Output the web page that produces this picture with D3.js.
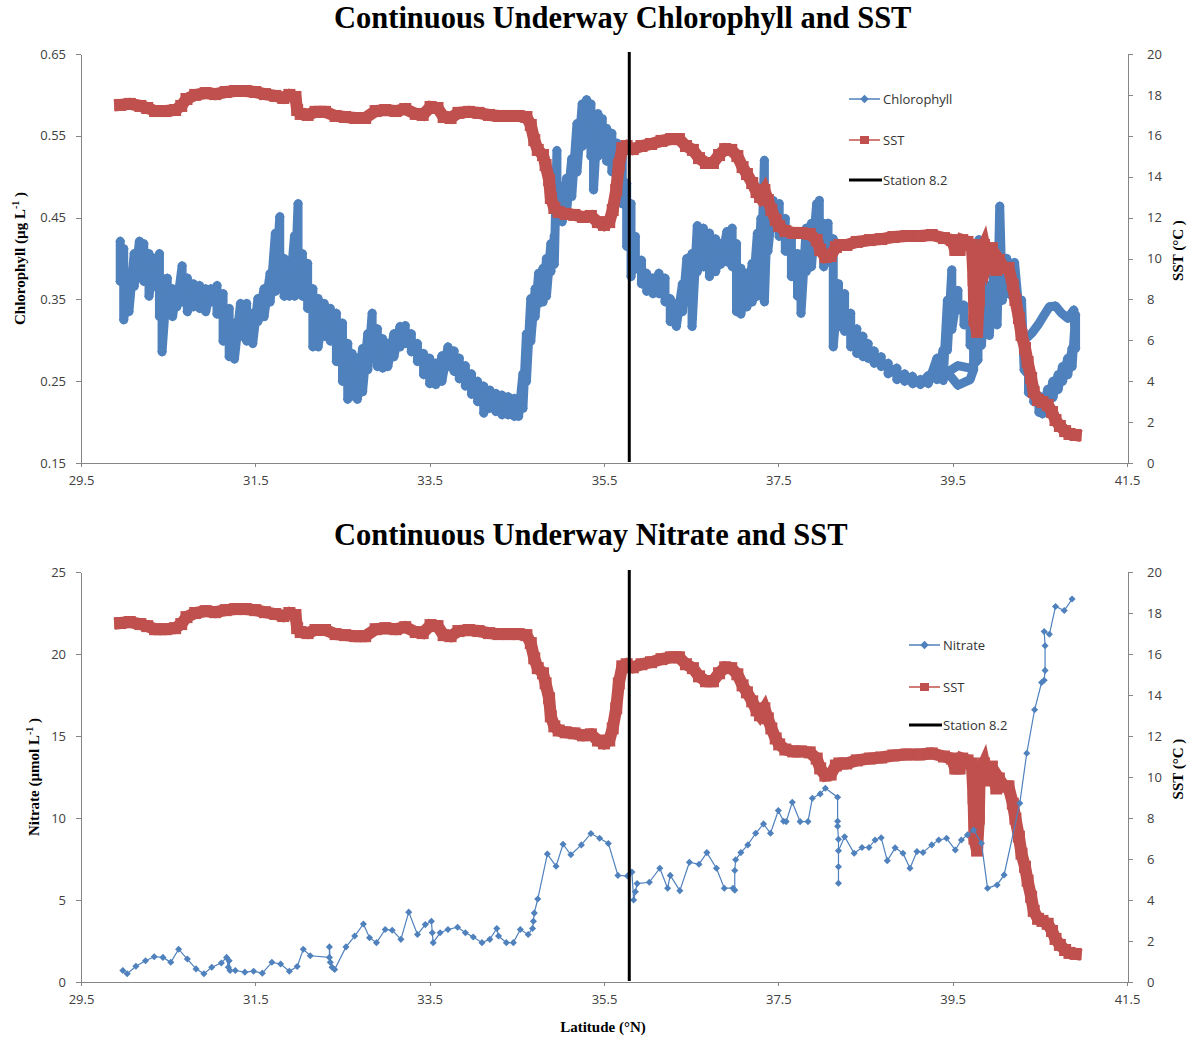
<!DOCTYPE html>
<html>
<head>
<meta charset="utf-8">
<script src="https://cdn.jsdelivr.net/npm/d3@7"></script>
<style>
  body { margin: 0; background: #fff; }
  .axis path, .axis line { stroke: #868686; shape-rendering: crispEdges; }
  .axis text { font-family: "Open Sans", sans-serif; font-size: 13px; fill: #404040; }
  .title { font-family: "Liberation Serif", serif; font-weight: bold; font-size: 30.5px; fill: #000; }
  .label { font-family: "Liberation Serif", serif; font-weight: bold; font-size: 15px; fill: #000; }
  .legend text { font-family: "Open Sans", sans-serif; font-size: 13px; fill: #333; }
</style>
</head>
<body>
<svg id="chart" width="1188" height="1038"></svg>
<script>
// ---- data ----
const latTicks = [29.5, 31.5, 33.5, 35.5, 37.5, 39.5, 41.5];
const chlTicks = [0.15, 0.25, 0.35, 0.45, 0.55, 0.65];
const nitrateTicks = [0, 5, 10, 15, 20, 25];
const sstTicks = [0, 2, 4, 6, 8, 10, 12, 14, 16, 18, 20];
const stationLat = 35.79;

// [latitude, chlorophyll µg/L] in track order (dense underway record)
const chlorophyll = [
  [29.95,0.421],[29.95,0.372],[29.99,0.412],[29.99,0.325],[30.05,0.382],[30.05,0.335],
  [30.11,0.406],[30.11,0.366],[30.17,0.421],[30.17,0.378],[30.22,0.418],[30.22,0.372],
  [30.28,0.406],[30.28,0.354],[30.34,0.400],[30.34,0.366],[30.40,0.406],[30.40,0.329],
  [30.43,0.376],[30.43,0.286],[30.49,0.376],[30.49,0.341],[30.55,0.363],[30.55,0.329],
  [30.60,0.363],[30.60,0.341],[30.66,0.391],[30.66,0.347],[30.72,0.376],[30.72,0.335],
  [30.79,0.369],[30.79,0.341],[30.86,0.367],[30.86,0.339],[30.93,0.363],[30.93,0.335],
  [30.99,0.363],[30.99,0.347],[31.06,0.367],[31.06,0.332],[31.13,0.357],[31.13,0.299],
  [31.20,0.339],[31.20,0.280],[31.26,0.321],[31.26,0.277],[31.33,0.345],[31.33,0.305],
  [31.40,0.345],[31.40,0.299],[31.47,0.333],[31.47,0.296],[31.53,0.351],[31.53,0.323],
  [31.60,0.363],[31.60,0.329],[31.67,0.382],[31.67,0.347],[31.73,0.431],[31.73,0.360],
  [31.78,0.451],[31.78,0.366],[31.83,0.400],[31.83,0.354],[31.89,0.391],[31.89,0.354],
  [31.95,0.428],[31.95,0.354],[31.99,0.467],[31.99,0.366],[32.04,0.406],[32.04,0.354],
  [32.10,0.394],[32.10,0.339],[32.16,0.363],[32.16,0.292],[32.22,0.351],[32.22,0.292],
  [32.29,0.345],[32.29,0.305],[32.36,0.339],[32.36,0.299],[32.43,0.333],[32.43,0.274],
  [32.50,0.321],[32.50,0.250],[32.56,0.296],[32.56,0.228],[32.61,0.284],[32.61,0.232],
  [32.67,0.278],[32.67,0.228],[32.73,0.290],[32.73,0.237],[32.79,0.308],[32.79,0.264],
  [32.84,0.333],[32.84,0.284],[32.90,0.314],[32.90,0.268],[32.96,0.302],[32.96,0.266],
  [33.02,0.296],[33.02,0.268],[33.09,0.308],[33.09,0.280],[33.16,0.317],[33.16,0.292],
  [33.22,0.318],[33.22,0.296],[33.29,0.308],[33.29,0.286],[33.36,0.296],[33.36,0.274],
  [33.43,0.284],[33.43,0.258],[33.50,0.278],[33.50,0.247],[33.57,0.272],[33.57,0.246],
  [33.64,0.281],[33.64,0.250],[33.71,0.292],[33.71,0.268],[33.78,0.287],[33.78,0.262],
  [33.84,0.278],[33.84,0.253],[33.91,0.269],[33.91,0.244],[33.98,0.259],[33.98,0.234],
  [34.05,0.250],[34.05,0.225],[34.12,0.244],[34.12,0.211],[34.19,0.239],[34.19,0.217],
  [34.26,0.235],[34.26,0.213],[34.33,0.233],[34.33,0.209],[34.40,0.231],[34.40,0.209],
  [34.47,0.229],[34.47,0.207],[34.52,0.225],[34.52,0.207],[34.57,0.259],[34.57,0.217],
  [34.61,0.308],[34.61,0.250],[34.66,0.351],[34.66,0.299],[34.71,0.363],[34.71,0.329],
  [34.75,0.382],[34.75,0.345],[34.80,0.388],[34.80,0.347],[34.84,0.400],[34.84,0.354],
  [34.89,0.418],[34.89,0.384],[34.93,0.428],[34.93,0.393],[34.96,0.532],[34.96,0.482],
  [35.02,0.488],[35.02,0.445],[35.07,0.498],[35.07,0.457],[35.13,0.522],[35.13,0.476],
  [35.19,0.565],[35.19,0.506],[35.25,0.589],[35.25,0.537],[35.30,0.594],[35.30,0.549],
  [35.35,0.589],[35.35,0.525],[35.38,0.574],[35.38,0.484],[35.43,0.577],[35.43,0.525],
  [35.48,0.571],[35.48,0.537],[35.53,0.559],[35.53,0.519],[35.59,0.553],[35.59,0.506],
  [35.65,0.541],[35.65,0.494],[35.71,0.528],[35.71,0.467],[35.76,0.492],[35.76,0.415],
  [35.81,0.467],[35.81,0.378],[35.86,0.427],[35.86,0.387],[35.93,0.398],[35.93,0.369],
  [35.99,0.382],[35.99,0.360],[36.06,0.376],[36.06,0.357],[36.13,0.382],[36.13,0.357],
  [36.20,0.376],[36.20,0.347],[36.26,0.351],[36.26,0.323],[36.33,0.345],[36.33,0.317],
  [36.40,0.369],[36.40,0.335],[36.45,0.400],[36.45,0.347],[36.51,0.406],[36.51,0.317],
  [36.57,0.440],[36.57,0.384],[36.64,0.437],[36.64,0.390],[36.71,0.431],[36.71,0.378],
  [36.78,0.424],[36.78,0.384],[36.84,0.418],[36.84,0.393],[36.91,0.433],[36.91,0.396],
  [36.97,0.437],[36.97,0.390],[37.02,0.418],[37.02,0.335],[37.07,0.388],[37.07,0.332],
  [37.14,0.382],[37.14,0.341],[37.20,0.394],[37.20,0.347],[37.26,0.431],[37.26,0.354],
  [37.30,0.449],[37.30,0.366],[37.34,0.520],[37.34,0.347],[37.38,0.473],[37.38,0.409],
  [37.44,0.471],[37.44,0.439],[37.51,0.467],[37.51,0.427],[37.58,0.449],[37.58,0.409],
  [37.65,0.424],[37.65,0.378],[37.72,0.406],[37.72,0.354],[37.76,0.388],[37.76,0.333],
  [37.82,0.437],[37.82,0.384],[37.88,0.443],[37.88,0.390],[37.94,0.467],[37.94,0.409],
  [37.97,0.471],[37.97,0.427],[38.02,0.443],[38.02,0.390],[38.07,0.443],[38.07,0.396],
  [38.13,0.424],[38.13,0.292],[38.19,0.369],[38.19,0.317],[38.26,0.357],[38.26,0.311],
  [38.33,0.333],[38.33,0.292],[38.40,0.314],[38.40,0.284],[38.47,0.305],[38.47,0.280],
  [38.53,0.296],[38.53,0.278],[38.60,0.287],[38.60,0.272],[38.68,0.280],[38.68,0.268],
  [38.76,0.272],[38.76,0.259],[38.86,0.266],[38.86,0.252],[38.95,0.259],[38.95,0.250],
  [39.04,0.256],[39.04,0.247],[39.13,0.252],[39.13,0.246],[39.22,0.257],[39.22,0.247],
  [39.32,0.278],[39.32,0.252],[39.39,0.288],[39.39,0.251],[39.44,0.349],[39.44,0.288],
  [39.49,0.386],[39.49,0.313],[39.56,0.361],[39.56,0.337],[39.63,0.343],[39.63,0.319],
  [39.70,0.319],[39.70,0.294],[39.74,0.306],[39.74,0.264],
  [39.70,0.252],[39.56,0.245],[39.44,0.261],[39.56,0.269],[39.70,0.266],[39.79,0.276],
  [39.80,0.423],[39.83,0.294],[39.88,0.368],[39.92,0.306],[39.97,0.380],[40.01,0.319],
  [40.04,0.464],[40.07,0.349],[40.12,0.400],[40.17,0.355],[40.21,0.395],[40.26,0.337],
  [40.29,0.349],[40.32,0.264],
  [40.37,0.258],[40.37,0.236],[40.43,0.245],[40.43,0.225],[40.49,0.232],[40.49,0.212],
  [40.53,0.228],[40.53,0.210],[40.59,0.240],[40.59,0.220],[40.65,0.250],[40.65,0.230],
  [40.71,0.258],[40.71,0.240],[40.76,0.268],[40.76,0.250],[40.82,0.278],[40.82,0.258],
  [40.87,0.290],[40.87,0.268],[40.91,0.331],[40.91,0.290],
  [40.89,0.337],[40.82,0.327],[40.75,0.333],[40.68,0.342],[40.61,0.341],[40.55,0.331],
  [40.48,0.319],[40.41,0.309],[40.35,0.303]
];

// [latitude, SST °C] in track order (same record in both panels)
const sst = [
  [29.95,17.51],[30.06,17.56],[30.18,17.46],[30.26,17.36],[30.35,17.21],[30.47,17.21],
  [30.58,17.26],[30.65,17.46],[30.71,17.80],[30.81,18.00],[30.93,18.09],[31.04,18.04],
  [31.16,18.14],[31.27,18.19],[31.39,18.19],[31.50,18.14],[31.61,18.04],[31.73,17.95],
  [31.82,17.85],[31.89,18.00],[31.96,17.90],[31.98,17.26],[32.02,17.07],[32.10,17.02],
  [32.19,17.17],[32.30,17.17],[32.42,16.97],[32.53,16.92],[32.65,16.87],[32.76,16.87],
  [32.88,17.21],[32.99,17.26],[33.11,17.21],[33.22,17.31],[33.34,17.07],[33.42,17.02],
  [33.51,17.41],[33.59,17.36],[33.66,16.92],[33.74,16.87],[33.83,17.12],[33.95,17.17],
  [34.06,17.12],[34.18,17.02],[34.29,16.97],[34.41,16.97],[34.52,16.97],[34.61,16.92],
  [34.66,16.53],[34.70,15.79],[34.74,15.31],[34.80,15.06],[34.83,14.57],[34.87,13.84],
  [34.89,12.96],[34.93,12.47],[34.98,12.27],[35.06,12.18],[35.16,12.13],[35.26,12.03],
  [35.35,12.08],[35.43,11.78],[35.50,11.64],[35.56,11.78],[35.60,12.37],[35.64,13.35],
  [35.67,14.57],[35.71,15.40],[35.76,15.50],[35.83,15.35],[35.93,15.50],[36.04,15.60],
  [36.16,15.75],[36.27,15.84],[36.36,15.84],[36.44,15.50],[36.52,15.31],[36.59,14.91],
  [36.67,14.67],[36.75,14.67],[36.82,15.06],[36.89,15.35],[36.96,15.31],[37.03,15.01],
  [37.09,14.47],[37.14,14.13],[37.20,13.69],[37.25,13.25],[37.29,13.01],[37.34,13.35],
  [37.38,12.86],[37.42,12.37],[37.47,11.88],[37.51,11.59],[37.58,11.34],[37.67,11.25],
  [37.76,11.25],[37.86,11.20],[37.94,10.90],[37.98,10.42],[38.04,10.07],[38.10,10.12],
  [38.16,10.56],[38.20,10.66],[38.28,10.66],[38.40,10.81],[38.55,10.90],[38.68,10.95],
  [38.82,11.05],[38.97,11.10],[39.12,11.10],[39.26,11.15],[39.40,11.00],[39.49,10.90],
  [39.53,10.42],[39.58,10.42],[39.61,10.90],[39.67,10.81],[39.72,10.66],[39.74,8.95],
  [39.75,6.99],[39.78,6.41],[39.80,7.97],[39.81,10.17],[39.86,10.66],[39.90,9.83],
  [39.95,10.51],[40.00,9.44],[40.03,9.93],[40.09,9.54],[40.14,9.54],[40.19,8.70],
  [40.22,7.97],[40.26,7.09],[40.29,6.26],[40.33,5.62],[40.36,4.94],[40.40,4.16],
  [40.43,3.47],[40.48,3.08],[40.53,2.98],[40.59,2.84],[40.64,2.49],[40.68,2.10],
  [40.73,1.81],[40.79,1.56],[40.84,1.42],[40.91,1.37]
];

// [latitude, nitrate µmol/L]
const nitrate = [
  [29.98,0.70],[30.03,0.50],[30.13,0.96],[30.24,1.30],[30.34,1.54],[30.44,1.50],
  [30.53,1.20],[30.62,2.00],[30.72,1.40],[30.82,0.80],[30.91,0.50],[31.00,0.90],
  [31.11,1.16],[31.17,1.50],[31.19,0.90],[31.20,1.30],[31.21,0.70],[31.27,0.70],
  [31.38,0.60],[31.48,0.66],[31.58,0.54],[31.69,1.20],[31.79,1.10],[31.89,0.66],
  [31.98,0.94],[32.05,2.00],[32.13,1.60],[32.35,1.50],[32.35,2.14],[32.36,1.20],
  [32.38,0.90],[32.41,0.76],[32.54,2.14],[32.64,2.80],[32.74,3.54],[32.81,2.70],
  [32.89,2.40],[32.99,3.20],[33.07,3.16],[33.17,2.60],[33.26,4.26],[33.36,2.90],
  [33.45,3.50],[33.52,3.70],[33.53,3.00],[33.54,2.40],[33.62,3.00],[33.71,3.20],
  [33.82,3.34],[33.91,3.00],[34.00,2.74],[34.10,2.40],[34.19,2.60],[34.27,3.26],
  [34.29,2.80],[34.38,2.40],[34.46,2.40],[34.54,3.20],[34.63,2.90],[34.68,3.26],
  [34.69,3.70],[34.70,4.20],[34.74,5.06],[34.85,7.80],[34.95,7.06],[35.03,8.40],
  [35.12,7.76],[35.24,8.36],[35.35,9.06],[35.45,8.76],[35.55,8.45],[35.66,6.50],
  [35.77,6.47],[35.82,6.70],[35.84,5.00],[35.86,5.50],[35.88,6.00],[36.02,6.08],
  [36.14,6.94],[36.23,5.72],[36.26,6.50],[36.37,5.57],[36.48,7.30],[36.59,7.18],
  [36.68,7.89],[36.79,6.94],[36.88,5.72],[36.98,5.72],[37.00,5.60],[37.00,6.80],
  [37.01,7.45],[37.07,7.89],[37.15,8.36],[37.24,9.07],[37.33,9.64],[37.41,9.07],
  [37.50,10.45],[37.56,9.80],[37.59,9.78],[37.66,10.96],[37.75,9.78],[37.84,9.78],
  [37.89,11.20],[37.98,11.47],[38.04,11.81],[38.18,11.27],[38.18,9.80],[38.18,9.50],
  [38.19,8.70],[38.19,7.03],[38.19,6.02],[38.19,8.00],[38.26,8.86],[38.37,7.85],
  [38.46,8.20],[38.54,8.20],[38.61,8.66],[38.68,8.80],[38.75,7.40],[38.84,8.18],
  [38.93,7.85],[39.01,6.94],[39.09,7.95],[39.16,7.90],[39.26,8.36],[39.34,8.66],
  [39.43,8.76],[39.53,8.05],[39.60,8.66],[39.67,8.97],[39.74,9.27],[39.83,8.46],
  [39.90,5.72],[40.01,5.92],[40.09,6.53],[40.27,10.90],[40.35,13.95],[40.44,16.60],
  [40.52,18.26],[40.55,18.40],[40.56,19.00],[40.56,20.50],[40.55,21.37],[40.61,21.20],
  [40.68,22.90],[40.78,22.65],[40.87,23.35]
];

const blue = "#4f81bd";
const red = "#c0504d";

const svg = d3.select("#chart");
svg.append("rect").attr("width", 1188).attr("height", 1038).attr("fill", "#fff");

const x = d3.scaleLinear().domain([29.5, 41.5]).range([81, 1127]);
const rightEdge = 1128;

// diamond markers (squares turned 45°)
function diamonds(g, data, xs, ys, side, color) {
  g.selectAll(null)
    .data(data)
    .join("rect")
    .attr("x", -side / 2).attr("y", -side / 2)
    .attr("width", side).attr("height", side)
    .attr("fill", color)
    .attr("transform", d => `translate(${xs(d[0])},${ys(d[1])}) rotate(45)`);
}

function drawPanel(cfg) {
  const g = svg.append("g");
  const yL = d3.scaleLinear().domain(cfg.leftDomain).range([cfg.bottom, cfg.top]);
  const yR = d3.scaleLinear().domain([0, 20]).range([cfg.bottom, cfg.top]);

  g.append("text").attr("class", "title")
    .attr("x", 334).attr("y", cfg.titleY).text(cfg.title);

  g.append("g").attr("class", "axis")
    .attr("transform", `translate(0,${cfg.bottom})`)
    .call(d3.axisBottom(x).tickValues(latTicks).tickFormat(d3.format(".1f"))
      .tickSize(4).tickSizeOuter(0).tickPadding(9));

  g.append("g").attr("class", "axis")
    .attr("transform", `translate(81,0)`)
    .call(d3.axisLeft(yL).tickValues(cfg.leftTicks).tickFormat(cfg.leftFormat)
      .tickSize(5).tickSizeOuter(0).tickPadding(10));

  g.append("g").attr("class", "axis")
    .attr("transform", `translate(${rightEdge},0)`)
    .call(d3.axisRight(yR).tickValues(sstTicks).tickSize(5).tickSizeOuter(0).tickPadding(14));

  // left label
  const ll = g.append("text").attr("class", "label")
    .attr("text-anchor", "middle").attr("dy", "0.35em")
    .attr("transform", `translate(${cfg.leftLabelX},${(cfg.top + cfg.bottom) / 2}) rotate(-90)`);
  ll.append("tspan").text(cfg.leftLabel + " L");
  ll.append("tspan").attr("font-size", 10).attr("dy", -6).text("-1");
  ll.append("tspan").attr("dy", 6).text(" )");

  g.append("text").attr("class", "label")
    .attr("text-anchor", "middle").attr("dy", "0.35em")
    .attr("transform", `translate(1178,${(cfg.top + cfg.bottom) / 2 - 8}) rotate(-90)`)
    .text("SST (°C )");

  const lineL = d3.line().x(d => x(d[0])).y(d => yL(d[1]));
  const lineR = d3.line().x(d => x(d[0])).y(d => yR(d[1]));

  const drawLeft = () => {
    if (cfg.dense) {
      g.append("path").datum(cfg.leftData)
        .attr("d", lineL).attr("fill", "none").attr("stroke", blue)
        .attr("stroke-width", 9).attr("stroke-linejoin", "round").attr("stroke-linecap", "round");
      diamonds(g.append("g"), cfg.leftData, x, yL, 7, blue);
    } else {
      g.append("path").datum(cfg.leftData)
        .attr("d", lineL).attr("fill", "none").attr("stroke", blue).attr("stroke-width", 1.2);
      diamonds(g.append("g"), cfg.leftData, x, yL, 5, blue);
    }
  };
  const drawSst = () => {
    g.append("path").datum(sst)
      .attr("d", lineR).attr("fill", "none").attr("stroke", red)
      .attr("stroke-width", 12).attr("stroke-linejoin", "miter").attr("stroke-linecap", "square");
    g.append("g").selectAll("rect").data(sst).join("rect")
      .attr("x", d => x(d[0]) - 6).attr("y", d => yR(d[1]) - 6)
      .attr("width", 12).attr("height", 12).attr("fill", red);
  };
  if (cfg.dense) { drawLeft(); drawSst(); } else { drawSst(); drawLeft(); }

  // station 8.2
  g.append("line")
    .attr("x1", x(stationLat)).attr("x2", x(stationLat))
    .attr("y1", cfg.top - 2).attr("y2", cfg.bottom - 1)
    .attr("stroke", "#000").attr("stroke-width", 3);

  // legend
  const lg = g.append("g").attr("class", "legend");
  const lx = cfg.legendX;
  cfg.legendY.forEach((ly, i) => {
    if (i === 0) {
      lg.append("line").attr("x1", lx).attr("x2", lx + 31).attr("y1", ly).attr("y2", ly)
        .attr("stroke", blue).attr("stroke-width", 1.5);
      lg.append("rect").attr("x", -3).attr("y", -3).attr("width", 6).attr("height", 6)
        .attr("fill", blue).attr("transform", `translate(${lx + 15.5},${ly}) rotate(45)`);
    } else if (i === 1) {
      lg.append("line").attr("x1", lx).attr("x2", lx + 31).attr("y1", ly).attr("y2", ly)
        .attr("stroke", red).attr("stroke-width", 1.5);
      lg.append("rect").attr("x", lx + 11).attr("y", ly - 4).attr("width", 9).attr("height", 8)
        .attr("fill", red);
    } else {
      lg.append("line").attr("x1", lx).attr("x2", lx + 33).attr("y1", ly).attr("y2", ly)
        .attr("stroke", "#000").attr("stroke-width", 3);
    }
    lg.append("text").attr("x", lx + 34).attr("y", ly).attr("dy", "0.35em")
      .text(cfg.legendNames[i]);
  });
}

drawPanel({
  title: "Continuous Underway Chlorophyll and SST", titleY: 28,
  top: 54, bottom: 463,
  leftDomain: [0.15, 0.65], leftTicks: chlTicks, leftFormat: d3.format(".2f"),
  leftLabel: "Chlorophyll (µg", leftLabelX: 20,
  leftData: chlorophyll, dense: true,
  legendX: 849, legendY: [99, 140, 180],
  legendNames: ["Chlorophyll", "SST", "Station 8.2"]
});

drawPanel({
  title: "Continuous Underway Nitrate and SST", titleY: 545,
  top: 572, bottom: 982,
  leftDomain: [0, 25], leftTicks: nitrateTicks, leftFormat: d3.format("d"),
  leftLabel: "Nitrate (µmol", leftLabelX: 34,
  leftData: nitrate, dense: false,
  legendX: 909, legendY: [645, 687, 725],
  legendNames: ["Nitrate", "SST", "Station 8.2"]
});

svg.append("text").attr("class", "label")
  .attr("x", 603).attr("y", 1032).attr("text-anchor", "middle")
  .text("Latitude (°N)");
</script>
</body>
</html>
